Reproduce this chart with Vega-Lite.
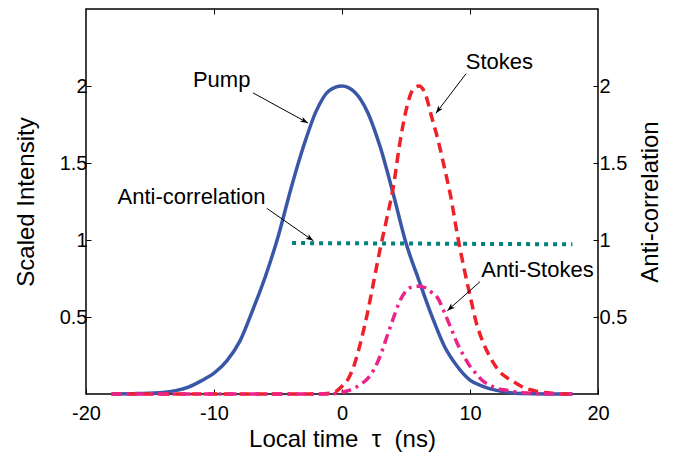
{
  "$schema": "https://vega.github.io/schema/vega-lite/v6.json",
  "width": 512,
  "height": 385,
  "autosize": "none",
  "padding": {"left": 86, "top": 9, "right": 84, "bottom": 59},
  "background": "white",
  "config": {
    "font": "Liberation Sans",
    "view": {"stroke": "black", "strokeWidth": 1.5},
    "axis": {
      "domain": false,
      "grid": false,
      "tickColor": "black",
      "tickWidth": 1,
      "tickSize": -5,
      "labelColor": "black",
      "labelFont": "Liberation Sans",
      "labelFontSize": 20,
      "labelExpr": "datum.value + ''",
      "titleFont": "Liberation Sans",
      "titleFontSize": 24,
      "titleFontWeight": "normal",
      "titleColor": "black"
    }
  },
  "datasets": {
    "curves": [
      {"s": "Pump", "t": -18, "v": 0},
      {"s": "Pump", "t": -16, "v": 0.003},
      {"s": "Pump", "t": -14, "v": 0.01},
      {"s": "Pump", "t": -13, "v": 0.022},
      {"s": "Pump", "t": -12, "v": 0.045},
      {"s": "Pump", "t": -11, "v": 0.085},
      {"s": "Pump", "t": -10, "v": 0.135},
      {"s": "Pump", "t": -9, "v": 0.215},
      {"s": "Pump", "t": -8, "v": 0.34},
      {"s": "Pump", "t": -7, "v": 0.54},
      {"s": "Pump", "t": -6, "v": 0.76},
      {"s": "Pump", "t": -5, "v": 1.02},
      {"s": "Pump", "t": -4, "v": 1.33},
      {"s": "Pump", "t": -3, "v": 1.61},
      {"s": "Pump", "t": -2, "v": 1.84},
      {"s": "Pump", "t": -1, "v": 1.97},
      {"s": "Pump", "t": 0, "v": 2.0},
      {"s": "Pump", "t": 1, "v": 1.96},
      {"s": "Pump", "t": 2, "v": 1.83},
      {"s": "Pump", "t": 3, "v": 1.6},
      {"s": "Pump", "t": 4, "v": 1.3},
      {"s": "Pump", "t": 5, "v": 0.98},
      {"s": "Pump", "t": 6, "v": 0.74},
      {"s": "Pump", "t": 7, "v": 0.51},
      {"s": "Pump", "t": 8, "v": 0.31},
      {"s": "Pump", "t": 9, "v": 0.18},
      {"s": "Pump", "t": 10, "v": 0.09},
      {"s": "Pump", "t": 11, "v": 0.05},
      {"s": "Pump", "t": 12, "v": 0.025},
      {"s": "Pump", "t": 13, "v": 0.01},
      {"s": "Pump", "t": 14, "v": 0.003},
      {"s": "Pump", "t": 16, "v": 0},
      {"s": "Pump", "t": 18, "v": 0},
      {"s": "Stokes", "t": -18, "v": 0},
      {"s": "Stokes", "t": -2, "v": 0},
      {"s": "Stokes", "t": -1, "v": 0.005},
      {"s": "Stokes", "t": -0.5, "v": 0.015},
      {"s": "Stokes", "t": 0, "v": 0.05},
      {"s": "Stokes", "t": 0.5, "v": 0.1},
      {"s": "Stokes", "t": 1, "v": 0.2},
      {"s": "Stokes", "t": 1.5, "v": 0.35},
      {"s": "Stokes", "t": 2, "v": 0.53},
      {"s": "Stokes", "t": 2.5, "v": 0.74},
      {"s": "Stokes", "t": 3, "v": 0.95},
      {"s": "Stokes", "t": 3.5, "v": 1.14},
      {"s": "Stokes", "t": 4, "v": 1.34},
      {"s": "Stokes", "t": 4.5, "v": 1.62},
      {"s": "Stokes", "t": 5, "v": 1.84},
      {"s": "Stokes", "t": 5.5, "v": 1.97},
      {"s": "Stokes", "t": 6, "v": 2.0},
      {"s": "Stokes", "t": 6.5, "v": 1.95},
      {"s": "Stokes", "t": 7, "v": 1.8},
      {"s": "Stokes", "t": 7.5, "v": 1.65},
      {"s": "Stokes", "t": 8, "v": 1.47},
      {"s": "Stokes", "t": 8.5, "v": 1.28},
      {"s": "Stokes", "t": 9, "v": 1.04},
      {"s": "Stokes", "t": 9.5, "v": 0.83},
      {"s": "Stokes", "t": 10, "v": 0.64},
      {"s": "Stokes", "t": 10.5, "v": 0.46},
      {"s": "Stokes", "t": 11, "v": 0.34},
      {"s": "Stokes", "t": 11.5, "v": 0.25},
      {"s": "Stokes", "t": 12, "v": 0.18},
      {"s": "Stokes", "t": 12.5, "v": 0.13},
      {"s": "Stokes", "t": 13, "v": 0.1},
      {"s": "Stokes", "t": 13.5, "v": 0.075},
      {"s": "Stokes", "t": 14, "v": 0.05},
      {"s": "Stokes", "t": 15, "v": 0.022},
      {"s": "Stokes", "t": 16, "v": 0.008},
      {"s": "Stokes", "t": 17, "v": 0.002},
      {"s": "Stokes", "t": 18, "v": 0},
      {"s": "Anti-Stokes", "t": -18, "v": 0},
      {"s": "Anti-Stokes", "t": -1, "v": 0},
      {"s": "Anti-Stokes", "t": 0, "v": 0.012},
      {"s": "Anti-Stokes", "t": 0.5, "v": 0.022},
      {"s": "Anti-Stokes", "t": 1, "v": 0.04},
      {"s": "Anti-Stokes", "t": 1.5, "v": 0.065},
      {"s": "Anti-Stokes", "t": 2, "v": 0.1},
      {"s": "Anti-Stokes", "t": 2.5, "v": 0.16},
      {"s": "Anti-Stokes", "t": 3, "v": 0.25},
      {"s": "Anti-Stokes", "t": 3.5, "v": 0.37},
      {"s": "Anti-Stokes", "t": 4, "v": 0.49},
      {"s": "Anti-Stokes", "t": 4.5, "v": 0.6},
      {"s": "Anti-Stokes", "t": 5, "v": 0.67},
      {"s": "Anti-Stokes", "t": 5.5, "v": 0.695},
      {"s": "Anti-Stokes", "t": 6, "v": 0.7},
      {"s": "Anti-Stokes", "t": 6.5, "v": 0.69},
      {"s": "Anti-Stokes", "t": 7, "v": 0.66},
      {"s": "Anti-Stokes", "t": 7.5, "v": 0.62},
      {"s": "Anti-Stokes", "t": 8, "v": 0.53},
      {"s": "Anti-Stokes", "t": 8.5, "v": 0.43},
      {"s": "Anti-Stokes", "t": 9, "v": 0.33},
      {"s": "Anti-Stokes", "t": 9.5, "v": 0.25},
      {"s": "Anti-Stokes", "t": 10, "v": 0.18},
      {"s": "Anti-Stokes", "t": 10.5, "v": 0.13},
      {"s": "Anti-Stokes", "t": 11, "v": 0.085},
      {"s": "Anti-Stokes", "t": 11.5, "v": 0.06},
      {"s": "Anti-Stokes", "t": 12, "v": 0.04},
      {"s": "Anti-Stokes", "t": 13, "v": 0.022},
      {"s": "Anti-Stokes", "t": 14, "v": 0.01},
      {"s": "Anti-Stokes", "t": 15, "v": 0.004},
      {"s": "Anti-Stokes", "t": 16, "v": 0.001},
      {"s": "Anti-Stokes", "t": 18, "v": 0}
    ],
    "anticorr": [
      {"t": -3.9, "c": 0.98},
      {"t": 0, "c": 0.979},
      {"t": 5, "c": 0.977},
      {"t": 10, "c": 0.975},
      {"t": 15, "c": 0.973},
      {"t": 18, "c": 0.972}
    ],
    "notes": [
      {"label": "Pump", "tx": -9.4, "ty": 2.04, "x1": -6.95, "y1": 1.955, "x2": -2.66, "y2": 1.76},
      {"label": "Stokes", "tx": 12.3, "ty": 2.156, "x1": 9.69, "y1": 2.08, "x2": 7.34, "y2": 1.823},
      {"label": "Anti-correlation", "tx": -11.76, "ty": 1.279, "x1": -5.88, "y1": 1.206, "x2": -2.24, "y2": 0.995},
      {"label": "Anti-Stokes", "tx": 15.27, "ty": 0.805, "x1": 10.78, "y1": 0.729, "x2": 8.23, "y2": 0.541}
    ]
  },
  "layer": [
    {
      "data": {"name": "curves"},
      "transform": [{"filter": "datum.s == 'Pump'"}],
      "mark": {"type": "line", "color": "#3A56A6", "strokeWidth": 3.5, "interpolate": "monotone"},
      "encoding": {
        "x": {"field": "t", "type": "quantitative", "scale": {"domain": [-20, 20], "nice": false},
          "axis": {"orient": "bottom", "values": [-20, -10, 0, 10, 20], "title": "Local time\u00a0\u00a0τ\u00a0\u00a0(ns)", "titleFontSize": 24, "labelPadding": 14, "titlePadding": 4, "labelFlush": false}},
        "y": {"field": "v", "type": "quantitative", "scale": {"domain": [0, 2.5], "nice": false, "zero": false},
          "axis": {"orient": "left", "values": [0.5, 1, 1.5, 2], "title": "Scaled Intensity", "labelPadding": 4, "titlePadding": 21}}
      }
    },
    {
      "data": {"name": "curves"},
      "transform": [{"filter": "datum.s == 'Stokes'"}],
      "mark": {"type": "line", "color": "#EE2028", "strokeWidth": 3.5, "strokeDash": [10, 6], "interpolate": "monotone"},
      "encoding": {
        "x": {"field": "t", "type": "quantitative", "scale": {"domain": [-20, 20], "nice": false}, "axis": null},
        "y": {"field": "v", "type": "quantitative", "scale": {"domain": [0, 2.5], "nice": false, "zero": false}, "axis": null}
      }
    },
    {
      "data": {"name": "curves"},
      "transform": [{"filter": "datum.s == 'Anti-Stokes'"}],
      "mark": {"type": "line", "color": "#EC2389", "strokeWidth": 3.5, "strokeDash": [10, 5, 3, 5], "interpolate": "monotone"},
      "encoding": {
        "x": {"field": "t", "type": "quantitative", "scale": {"domain": [-20, 20], "nice": false}, "axis": null},
        "y": {"field": "v", "type": "quantitative", "scale": {"domain": [0, 2.5], "nice": false, "zero": false}, "axis": null}
      }
    },
    {
      "data": {"name": "anticorr"},
      "mark": {"type": "line", "color": "#00827C", "strokeWidth": 4, "strokeDash": [4, 5]},
      "encoding": {
        "x": {"field": "t", "type": "quantitative", "scale": {"domain": [-20, 20], "nice": false},
          "axis": {"orient": "top", "values": [-10, 0, 10], "labels": false, "title": null}},
        "y": {"field": "c", "type": "quantitative", "scale": {"domain": [0, 2.5], "nice": false, "zero": false},
          "axis": {"orient": "right", "values": [0.5, 1, 1.5, 2], "title": "Anti-correlation", "titleAngle": -90, "titleBaseline": "top", "labelPadding": 6, "titlePadding": 12}}
      }
    },
    {
      "data": {"name": "notes"},
      "mark": {"type": "rule", "color": "black", "strokeWidth": 1},
      "encoding": {
        "x": {"field": "x1", "type": "quantitative", "scale": {"domain": [-20, 20], "nice": false}, "axis": null},
        "y": {"field": "y1", "type": "quantitative", "scale": {"domain": [0, 2.5], "nice": false, "zero": false}, "axis": null},
        "x2": {"field": "x2"},
        "y2": {"field": "y2"}
      }
    },
    {
      "data": {"name": "notes"},
      "transform": [{"calculate": "atan2((datum.x2 - datum.x1) * 12.8, (datum.y2 - datum.y1) * 154) * 180 / PI", "as": "heading"}],
      "mark": {"type": "point", "shape": "M0,0L-0.36,1L0,0.75L0.36,1Z", "filled": true, "color": "black", "size": 230, "opacity": 1},
      "encoding": {
        "x": {"field": "x2", "type": "quantitative", "scale": {"domain": [-20, 20], "nice": false}, "axis": null},
        "y": {"field": "y2", "type": "quantitative", "scale": {"domain": [0, 2.5], "nice": false, "zero": false}, "axis": null},
        "angle": {"field": "heading", "type": "quantitative", "scale": null}
      }
    },
    {
      "data": {"name": "notes"},
      "mark": {"type": "text", "font": "Liberation Sans", "fontSize": 22, "color": "black", "align": "center", "baseline": "middle"},
      "encoding": {
        "x": {"field": "tx", "type": "quantitative", "scale": {"domain": [-20, 20], "nice": false}, "axis": null},
        "y": {"field": "ty", "type": "quantitative", "scale": {"domain": [0, 2.5], "nice": false, "zero": false}, "axis": null},
        "text": {"field": "label"}
      }
    }
  ],
  "resolve": {"scale": {"x": "independent", "y": "independent"}}
}
